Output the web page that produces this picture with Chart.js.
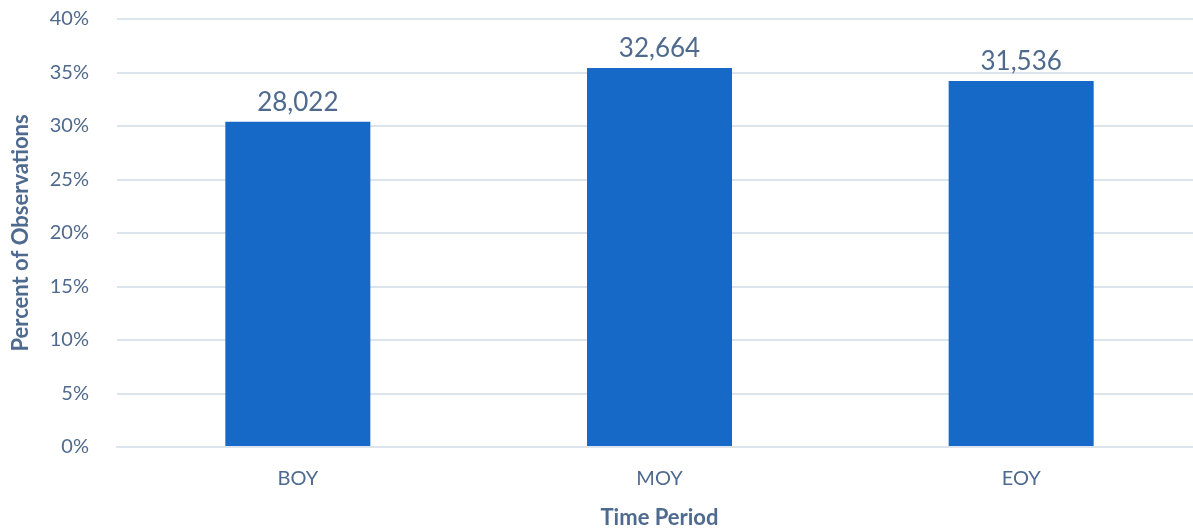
<!DOCTYPE html>
<html>
<head>
<meta charset="utf-8">
<script src="https://cdn.jsdelivr.net/npm/chart.js@4"></script>
<style>
  html, body { margin: 0; padding: 0; overflow: hidden; background: #fff; }
  #box { width: 1202px; height: 529px; position: relative; }
</style>
</head>
<body>
<div id="box"><canvas id="chart"></canvas></div>
<script>
const periods  = ["BOY", "MOY", "EOY"];
const counts   = [28022, 32664, 31536];
const percents = [30.39, 35.42, 34.20];

const textColor = "#4F6A8F";
const fontFamily = "Lato, 'Open Sans', sans-serif";

// draws the count above each bar
const countLabels = {
  id: "countLabels",
  afterDatasetsDraw(chart) {
    const ctx = chart.ctx;
    const meta = chart.getDatasetMeta(0);
    ctx.save();
    ctx.fillStyle = textColor;
    ctx.font = "26px " + fontFamily;
    ctx.textAlign = "center";
    ctx.textBaseline = "bottom";
    meta.data.forEach((bar, i) => {
      ctx.fillText(counts[i].toLocaleString("en-US"), bar.x, bar.y - 6);
    });
    ctx.restore();
  }
};

new Chart(document.getElementById("chart"), {
  type: "bar",
  data: {
    labels: periods,
    datasets: [{
      data: percents,
      backgroundColor: "#1769C8",
      categoryPercentage: 1,
      barPercentage: 0.401
    }]
  },
  plugins: [countLabels],
  options: {
    responsive: true,
    maintainAspectRatio: false,
    animation: false,
    layout: { padding: { top: 19, right: 0, left: 0, bottom: 0 } },
    scales: {
      x: {
        grid: { display: false },
        border: { color: "#DCE4EE", width: 2 },
        ticks: { color: textColor, font: { size: 20, family: fontFamily }, padding: 12 },
        title: {
          display: true, text: "Time Period", color: textColor,
          font: { size: 22, weight: "bold", family: fontFamily }, padding: { top: 4, bottom: -2 }
        },
        afterFit: s => { s.height = 82; }
      },
      y: {
        min: 0, max: 40,
        ticks: {
          stepSize: 5, color: textColor, padding: 28,
          font: { size: 20, family: fontFamily },
          callback: v => v + "%"
        },
        grid: { color: "#DCE4EE", lineWidth: 2, drawTicks: false },
        border: { display: false },
        title: {
          display: true, text: "Percent of Observations", color: textColor,
          font: { size: 22, weight: "bold", family: fontFamily }, padding: { top: 8, bottom: 8 }
        },
        afterFit: s => { s.width = 117; s.paddingTop = 0; s.paddingBottom = 0; }
      }
    },
    plugins: {
      legend: { display: false },
      tooltip: { enabled: false }
    }
  }
});
</script>
</body>
</html>
